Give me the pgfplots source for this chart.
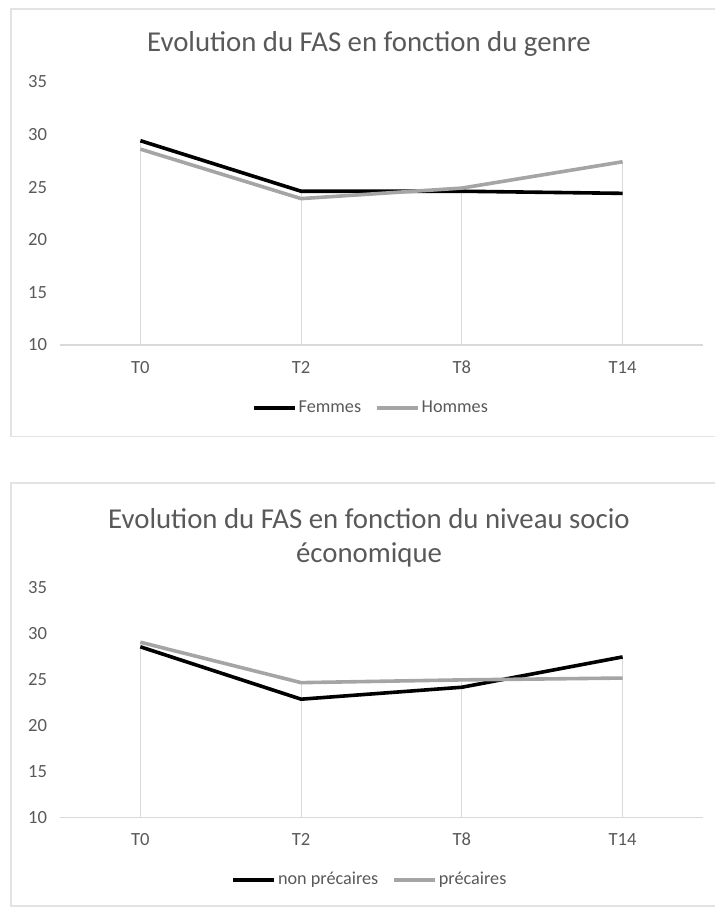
\documentclass[border=0pt]{standalone}
\usepackage{pgfplots}
\pgfplotsset{compat=1.18}
\usepackage{fontspec}
\setmainfont{Carlito}
\definecolor{txtgray}{HTML}{595959}
\definecolor{linegray}{HTML}{A5A5A5}
\definecolor{gridgray}{HTML}{D9D9D9}
\definecolor{framegray}{HTML}{E3E3E3}
\pgfplotsset{fasstyle/.style={
  scale only axis, width=321.5pt,
  xmin=-0.5, xmax=3.5, ymin=10, ymax=35,
  xtick={0,1,2,3}, xticklabels={T0,T2,T8,T14},
  ytick={10,15,20,25,30,35},
  axis lines*=left,
  separate axis lines,
  x axis line style={draw=gridgray, line width=0.7pt, -},
  y axis line style={draw=none},
  major tick length=0pt,
  tick label style={font=\fontsize{9.3}{11}\selectfont, text=txtgray},
  /pgf/number format/assume math mode=true,
  yticklabel style={xshift=-3pt},
  xticklabel style={yshift=-4pt, text height=6.5pt, text depth=0pt},
  title style={font=\fontsize{14.4}{17}\selectfont, text=txtgray, anchor=center, align=center, yshift=-7pt},
  legend columns=2,
  legend style={draw=none, fill=none, font=\fontsize{9.1}{11}\selectfont, text=txtgray, anchor=center,
     nodes={inner sep=1pt}, /tikz/every even column/.append style={column sep=6pt}},
  legend image code/.code={\draw[#1] (0pt,0pt) -- (20.5pt,0pt);},
  every axis plot/.append style={line join=round},
}}
\begin{document}
\begin{tikzpicture}
\useasboundingbox (0pt,0pt) rectangle (357.5pt,-453.5pt);
\draw[framegray, line width=0.8pt] (5.5pt,-4.5pt) rectangle (362pt,-218.3pt);
\draw[framegray, line width=0.8pt] (5.5pt,-241.5pt) rectangle (362pt,-453pt);
% ---- top chart
\begin{axis}[fasstyle, height=131.65pt, at={(30pt,-172.5pt)}, anchor=south west,
  title={Evolution du FAS en fonction du genre},
  title style={at={(rel axis cs:0.4806,1.151)}},
  legend style={at={(rel axis cs:0.4837,-0.239)}}]
\addplot[ycomb, draw=gridgray, line width=0.6pt, forget plot] coordinates {(0,29.4) (1,24.6) (2,24.6) (3,24.4)};
\addplot[ycomb, draw=gridgray, line width=0.6pt, forget plot] coordinates {(0,28.6) (1,23.9) (2,24.9) (3,27.4)};
\addplot[black, line width=1.8pt] coordinates {(0,29.4) (1,24.6) (2,24.6) (3,24.4)};
\addlegendentry{Femmes}
\addplot[linegray, line width=1.8pt] coordinates {(0,28.6) (1,23.9) (2,24.9) (3,27.4)};
\addlegendentry{Hommes}
\end{axis}
% ---- bottom chart
\begin{axis}[fasstyle, height=114.85pt, at={(30pt,-408.85pt)}, anchor=south west,
  title={Evolution du FAS en fonction du niveau socio\\économique},
  title style={at={(rel axis cs:0.4806,1.2286)}},
  legend style={at={(rel axis cs:0.482,-0.271)}}]
\addplot[ycomb, draw=gridgray, line width=0.6pt, forget plot] coordinates {(0,28.6) (1,22.9) (2,24.2) (3,27.5)};
\addplot[ycomb, draw=gridgray, line width=0.6pt, forget plot] coordinates {(0,29.1) (1,24.7) (2,25.0) (3,25.2)};
\addplot[black, line width=1.8pt] coordinates {(0,28.6) (1,22.9) (2,24.2) (3,27.5)};
\addlegendentry{non précaires}
\addplot[linegray, line width=1.8pt] coordinates {(0,29.1) (1,24.7) (2,25.0) (3,25.2)};
\addlegendentry{précaires}
\end{axis}
\end{tikzpicture}
\end{document}
